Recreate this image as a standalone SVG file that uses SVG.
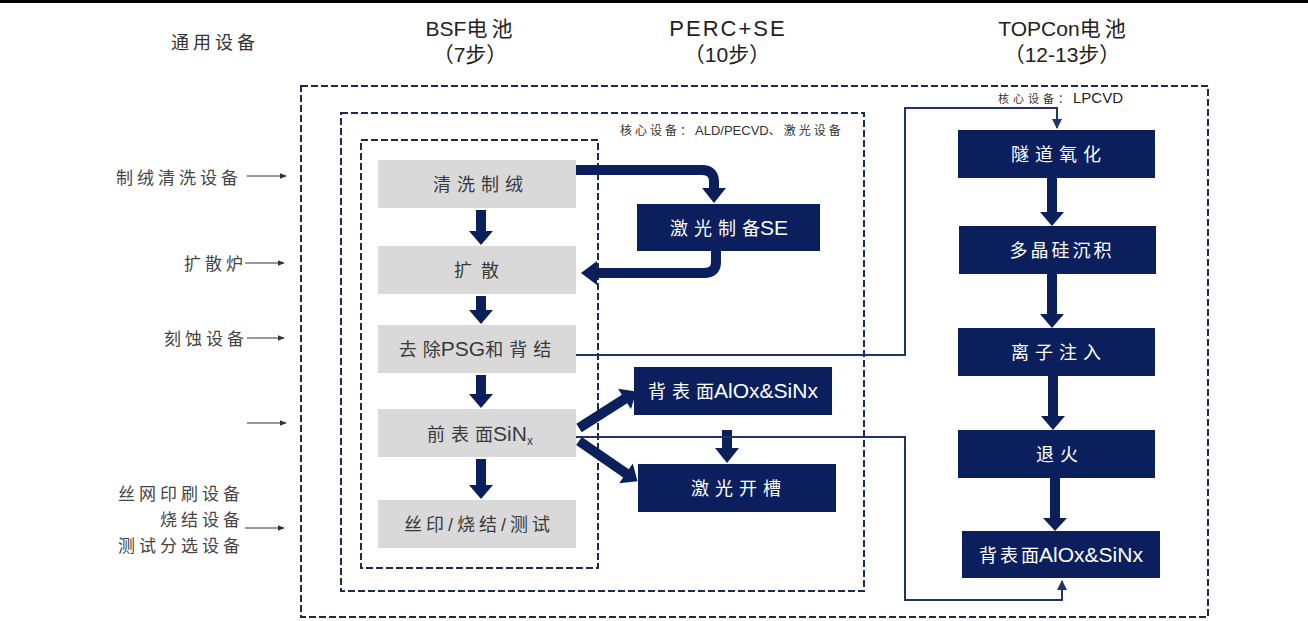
<svg xmlns="http://www.w3.org/2000/svg" width="1308" height="621" viewBox="0 0 1308 621">
  <defs>
    <style>
      .hdr { font-family: 'Liberation Sans', 'Noto Sans CJK SC', sans-serif; font-size: 21px; fill: #222; text-anchor: middle; }
      .lbl { font-family: 'Noto Sans CJK SC', sans-serif; font-size: 17px; fill: #444; text-anchor: end; letter-spacing: 4px; }
      .note { font-family: 'Liberation Sans', 'Noto Sans CJK SC', sans-serif; font-size: 12px; fill: #333; }
      .cj { letter-spacing: 6px; }
      .cjs { letter-spacing: 3px; }
      .lat { font-size: 21px; }
      .gbox { fill: #d9d9d9; }
      .bbox { fill: #0b1f5c; }
      .gtxt { font-family: 'Liberation Sans', 'Noto Sans CJK SC', sans-serif; font-size: 18px; fill: #3a3a3a; text-anchor: middle; }
      .btxt { font-family: 'Liberation Sans', 'Noto Sans CJK SC', sans-serif; font-size: 18px; fill: #ffffff; text-anchor: middle; }
      .dash { fill: none; stroke: #1c2a50; stroke-width: 2; stroke-dasharray: 7 3; }
      .thin { fill: none; stroke: #1f3566; stroke-width: 2; }
      .eq { fill: none; stroke: #333; stroke-width: 1; }
      .fat { fill: #0b1f5c; }
      .fatline { fill: none; stroke: #0b1f5c; stroke-width: 10; }
    </style>
    <marker id="tip" viewBox="0 0 10 10" refX="9" refY="5" markerWidth="7" markerHeight="7" orient="auto">
      <path d="M0,1 L10,5 L0,9 z" fill="#333"/>
    </marker>
    <marker id="tipb" viewBox="0 0 10 10" refX="9" refY="5" markerWidth="5" markerHeight="5" orient="auto">
      <path d="M0,0 L10,5 L0,10 z" fill="#1f3566"/>
    </marker>
  </defs>

  <rect width="1308" height="621" fill="#ffffff"/>
  <rect x="0" y="0" width="1308" height="3" fill="#000"/>

  <!-- column headers -->
  <g id="headers">
    <text class="hdr" x="215" y="49" style="font-size:18px;fill:#333;letter-spacing:4px">通用设备</text>
    <text class="hdr" x="471" y="36">BSF<tspan style="letter-spacing:4px">电池</tspan></text>
    <text class="hdr" x="470" y="62">（7步）</text>
    <text class="hdr" x="728" y="36" style="font-size:22px;letter-spacing:2px">PERC+SE</text>
    <text class="hdr" x="727" y="62">（10步）</text>
    <text class="hdr" x="1064" y="36">TOPCon<tspan style="letter-spacing:4px">电池</tspan></text>
    <text class="hdr" x="1062" y="62">（12-13步）</text>
  </g>

  <!-- equipment labels on the left -->
  <g id="equipment">
    <text class="lbl" x="242" y="184">制绒清洗设备</text>
    <text class="lbl" x="247" y="270">扩散炉</text>
    <text class="lbl" x="248" y="345">刻蚀设备</text>
    <text class="lbl" x="244" y="500">丝网印刷设备</text>
    <text class="lbl" x="244" y="526">烧结设备</text>
    <text class="lbl" x="244" y="552">测试分选设备</text>
    <line class="eq" x1="247" y1="176" x2="286" y2="176" marker-end="url(#tip)"/>
    <line class="eq" x1="245" y1="263" x2="284" y2="263" marker-end="url(#tip)"/>
    <line class="eq" x1="247" y1="338" x2="284" y2="338" marker-end="url(#tip)"/>
    <line class="eq" x1="247" y1="423" x2="286" y2="423" marker-end="url(#tip)"/>
    <line class="eq" x1="245" y1="528" x2="284" y2="528" marker-end="url(#tip)"/>
  </g>

  <!-- grouping frames -->
  <g id="frames">
    <rect class="dash" x="301" y="86" width="907" height="531"/>
    <rect class="dash" x="341" y="113" width="523" height="478"/>
    <rect class="dash" x="361" y="140" width="237" height="428"/>
    <text class="note" x="620" y="135"><tspan class="cjs">核心设备：</tspan><tspan font-size="13">ALD/PECVD</tspan><tspan class="cjs">、激光设备</tspan></text>
    <text class="note" x="998" y="103"><tspan font-size="11" style="letter-spacing:4px">核心设备：</tspan><tspan font-size="15" fill="#222">LPCVD</tspan></text>
  </g>

  <!-- connectors -->
  <g id="connectors">
    <!-- BSF main chain -->
    <polygon class="fat" points="476,210 486,210 486,231 493,231 481,245 469,231 476,231"/>
    <polygon class="fat" points="476,296 486,296 486,310 493,310 481,324 469,310 476,310"/>
    <polygon class="fat" points="476,375 486,375 486,394 493,394 481,408 469,394 476,394"/>
    <polygon class="fat" points="476,459 486,459 486,485 493,485 481,499 469,485 476,485"/>

    <!-- SE loop -->
    <path class="fatline" d="M576,170 H702 Q714,170 714,182 V190"/>
    <polygon class="fat" points="702,188 726,188 714,203"/>
    <path class="fatline" d="M716,251 V262 Q716,273 704,273 H596"/>
    <polygon class="fat" points="597,261 597,285 581,273"/>

    <!-- PERC branches -->
    <g transform="translate(579,428) rotate(-32.5)">
      <polygon class="fat" points="0,-5 54,-5 54,-12 68,0 54,12 54,5 0,5"/>
    </g>
    <g transform="translate(579,441) rotate(34.5)">
      <polygon class="fat" points="0,-5 57,-5 57,-12 71,0 57,12 57,5 0,5"/>
    </g>
    <polygon class="fat" points="722,430 732,430 732,448 739,448 727,463 715,448 722,448"/>

    <!-- routes into the TOPCon column -->
    <path class="thin" d="M576,355 H905 V108 H1057 V128" marker-end="url(#tipb)"/>
    <path class="thin" d="M576,437 H905 V600 H1062 V581" marker-end="url(#tipb)"/>

    <!-- TOPCon chain -->
    <polygon class="fat" points="1047,178 1057,178 1057,212 1064,212 1052,226 1040,212 1047,212"/>
    <polygon class="fat" points="1047,274 1057,274 1057,314 1064,314 1052,328 1040,314 1047,314"/>
    <polygon class="fat" points="1048,376 1058,376 1058,416 1065,416 1053,430 1041,416 1048,416"/>
    <polygon class="fat" points="1050,478 1060,478 1060,518 1067,518 1055,531 1043,518 1050,518"/>
  </g>

  <!-- BSF steps -->
  <g id="bsf-clean"><rect class="gbox" x="378" y="160" width="198" height="48"/><text class="gtxt cj" x="481" y="191">清洗制绒</text></g>
  <g id="bsf-diffuse"><rect class="gbox" x="378" y="246" width="198" height="48"/><text class="gtxt cj" x="481" y="277" style="letter-spacing:9px">扩散</text></g>
  <g id="bsf-psg"><rect class="gbox" x="378" y="325" width="198" height="48"/><text class="gtxt" x="478" y="356"><tspan class="cj">去</tspan>除<tspan class="lat">PSG</tspan><tspan class="cj">和背结</tspan></text></g>
  <g id="bsf-sinx"><rect class="gbox" x="378" y="409" width="198" height="48"/><text class="gtxt" x="480" y="441"><tspan class="cj">前表</tspan>面<tspan class="lat">SiN</tspan><tspan font-size="12" dy="4">x</tspan></text></g>
  <g id="bsf-print"><rect class="gbox" x="378" y="500" width="198" height="48"/><text class="gtxt" x="479" y="531" style="letter-spacing:4px">丝印/烧结/测试</text></g>

  <!-- PERC+SE steps -->
  <g id="perc-se"><rect class="bbox" x="637" y="204" width="183" height="47"/><text class="btxt" x="729" y="235"><tspan class="cj">激光制</tspan>备<tspan class="lat">SE</tspan></text></g>
  <g id="perc-rear"><rect class="bbox" x="634" y="367" width="198" height="48"/><text class="btxt" x="733" y="398"><tspan class="cj">背表</tspan>面<tspan class="lat">AlOx&amp;SiNx</tspan></text></g>
  <g id="perc-groove"><rect class="bbox" x="638" y="464" width="198" height="48"/><text class="btxt cj" x="739" y="495">激光开槽</text></g>

  <!-- TOPCon steps -->
  <g id="top-oxide"><rect class="bbox" x="958" y="130" width="197" height="48"/><text class="btxt cj" x="1059" y="161">隧道氧化</text></g>
  <g id="top-poly"><rect class="bbox" x="959" y="226" width="197" height="48"/><text class="btxt" x="1062" y="257" style="letter-spacing:3px">多晶硅沉积</text></g>
  <g id="top-implant"><rect class="bbox" x="958" y="328" width="197" height="48"/><text class="btxt cj" x="1059" y="359">离子注入</text></g>
  <g id="top-anneal"><rect class="bbox" x="958" y="430" width="197" height="48"/><text class="btxt" x="1060" y="461" style="letter-spacing:6px">退火</text></g>
  <g id="top-rear"><rect class="bbox" x="962" y="531" width="198" height="47"/><text class="btxt" x="1061" y="562"><tspan style="letter-spacing:3px">背表</tspan>面<tspan class="lat">AlOx&amp;SiNx</tspan></text></g>
</svg>
